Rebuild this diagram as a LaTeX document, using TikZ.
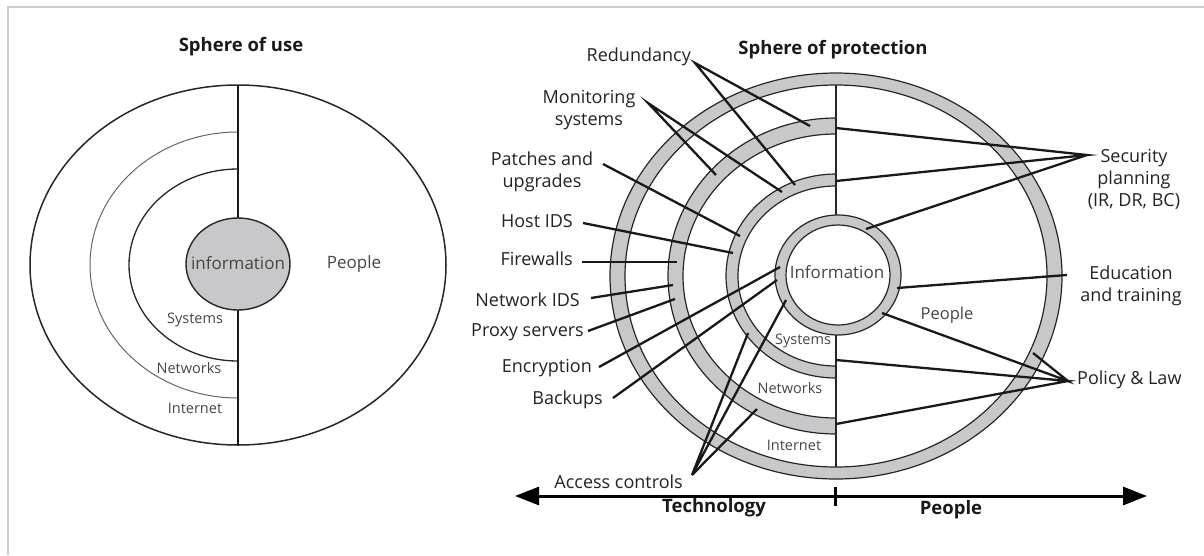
\documentclass[tikz,border=0pt]{standalone}
\usepackage{fontspec}
\setmainfont{Open Sans}
\usetikzlibrary{arrows.meta}
\definecolor{band}{RGB}{200,200,202}
\definecolor{lbl}{RGB}{35,35,35}
\definecolor{inl}{RGB}{70,70,70}
\definecolor{frame}{RGB}{205,205,205}
\begin{document}
\begin{tikzpicture}[x=1pt,y=-1pt,
  lab/.style={text=lbl, font=\fontsize{18}{22}\selectfont, inner sep=0pt},
  inlab/.style={text=inl, font=\fontsize{14.5}{18}\selectfont, inner sep=0pt},
  ttl/.style={text=black!90, font=\bfseries\fontsize{18.5}{20}\selectfont, inner sep=0pt},
  conn/.style={line width=2.3pt, draw=black!90},
  ringline/.style={line width=1.2pt, draw=black!85},
  axis/.style={line width=3pt, {Triangle[length=24pt,width=18pt]}-{Triangle[length=24pt,width=18pt]}}]
\useasboundingbox (0,0) rectangle (1204,555);
% frame
\draw[frame, line width=1.2pt] (8,555) -- (8,7) -- (1204,7);

% ---------------- Sphere of use ----------------
\node[ttl] (tuse) at (241,47) {Sphere of use};
\draw[line width=1.5pt, black!85] (238,265) ellipse[x radius=208pt, y radius=180pt];
\draw[line width=1pt, black!60] (238,132) arc[start angle=90, end angle=270, x radius=148pt, y radius=133pt];
\draw[line width=1.3pt, black!85] (238,169) arc[start angle=90, end angle=270, x radius=109pt, y radius=96pt];
\draw[line width=1.6pt, black!90] (238,85) -- (238,445);
\filldraw[fill=band, draw=black!85, line width=1.4pt] (238,264) ellipse[x radius=52pt, y radius=46pt];
\node[inlab, font=\fontsize{17}{20}\selectfont] (infoL) at (238,263) {information};
\node[inlab, font=\fontsize{17}{20}\selectfont] (peopleL) at (354,264) {People};
\node[inlab] (sysL) at (195,320) {Systems};
\node[inlab] (netL) at (189,368) {Networks};
\node[inlab] (intL) at (195,408) {Internet};

% ---------------- Sphere of protection ----------------
\node[ttl] (tprot) at (833,50) {Sphere of protection};
% outer full ring
\fill[band, even odd rule] (836,276) ellipse[x radius=226pt, y radius=203pt] (836,276) ellipse[x radius=211pt, y radius=191pt];
\draw[ringline] (836,276) ellipse[x radius=226pt, y radius=203pt];
\draw[ringline] (836,276) ellipse[x radius=211pt, y radius=191pt];
% networks half ring
\path[fill=band, ringline] (836,118) arc[start angle=90, end angle=270, x radius=168pt, y radius=158pt]
  -- (836,418) arc[start angle=270, end angle=90, x radius=153pt, y radius=142pt] -- cycle;
% systems half ring
\path[fill=band, ringline] (836,174) arc[start angle=90, end angle=270, x radius=110pt, y radius=102pt]
  -- (836,366) arc[start angle=270, end angle=90, x radius=98pt, y radius=90pt] -- cycle;
% divider
\draw[line width=1.3pt, black!85] (836,85) -- (836,467);
% information ring
\fill[band, even odd rule] (838,275) ellipse[x radius=63pt, y radius=60pt] (838,275) ellipse[x radius=52pt, y radius=50pt];
\fill[white] (838,275) ellipse[x radius=52pt, y radius=50pt];
\draw[ringline] (838,275) ellipse[x radius=63pt, y radius=60pt];
\draw[ringline] (838,275) ellipse[x radius=52pt, y radius=50pt];

% inner labels
\node[inlab, font=\fontsize{17}{20}\selectfont] (infoR) at (837,272) {Information};
\node[inlab, font=\fontsize{16.5}{20}\selectfont] (peopleR) at (947,315) {People};
\node[inlab] (sysR) at (803,341) {Systems};
\node[inlab] (netR) at (790,388) {Networks};
\node[inlab] (intR) at (794,445) {Internet};

% ring attachment points
\coordinate (red1) at (810,126);
\coordinate (red2) at (795,185);
\coordinate (mon1) at (716,175);
\coordinate (mon2) at (782,192);
\coordinate (pat) at (740,236);
\coordinate (host) at (733,253);
\coordinate (fw) at (677,262);
\coordinate (nids) at (673,285);
\coordinate (proxy) at (675,299);
\coordinate (enc) at (780,267);
\coordinate (bak) at (777,280);
\coordinate (acc1) at (748,333);
\coordinate (acc2) at (786,300);
\coordinate (acc3) at (757,409);
\coordinate (sec1) at (836,128);
\coordinate (sec2) at (836,181);
\coordinate (sec3) at (866,229);
\coordinate (edu) at (897,288);
\coordinate (pol1) at (882,313);
\coordinate (pol2) at (1033,353);
\coordinate (pol3) at (836,360);
\coordinate (pol4) at (836,424);

% left labels
\node[lab, anchor=east] (lred) at (691,57) {Redundancy};
\coordinate (ored) at (695,63);
\node[lab, align=center] (lmon) at (589,110) {Monitoring\\systems};
\coordinate (omon) at (648,103);
\node[lab, align=center] (lpat) at (542,172) {Patches and\\upgrades};
\coordinate (opat) at (603,164);
\node[lab, anchor=east] (lhost) at (573,221) {Host IDS};
\coordinate (ohost) at (583,223);
\node[lab, anchor=east] (lfw) at (573,259) {Firewalls};
\coordinate (ofw) at (582,262);
\node[lab, anchor=east] (lnids) at (580,300) {Network IDS};
\coordinate (onids) at (591,298);
\node[lab, anchor=east] (lproxy) at (584,332) {Proxy servers};
\coordinate (oproxy) at (588,331);
\node[lab, anchor=east] (lenc) at (592,368) {Encryption};
\coordinate (oenc) at (599,367);
\node[lab, anchor=east] (lbak) at (603,400) {Backups};
\coordinate (obak) at (613,398);
\node[lab, anchor=east] (lacc) at (683,482) {Access controls};
\coordinate (oacc) at (692,475);

% right labels
\node[lab, align=center] (lsec) at (1134,179) {Security\\planning\\(IR, DR, BC)};
\coordinate (osec) at (1087,155);
\node[lab, align=center] (ledu) at (1131,286) {Education\\and training};
\coordinate (oedu) at (1067,275);
\node[lab, anchor=west] (lpol) at (1077,380) {Policy \& Law};
\coordinate (opol) at (1068,381);

% connectors
\draw[conn] (red1) -- (ored) -- (red2);
\draw[conn] (mon1) -- (omon) -- (mon2);
\draw[conn] (opat) -- (pat);
\draw[conn] (ohost) -- (host);
\draw[conn] (ofw) -- (fw);
\draw[conn] (onids) -- (nids);
\draw[conn] (oproxy) -- (proxy);
\draw[conn] (oenc) -- (enc);
\draw[conn] (obak) -- (bak);
\draw[conn] (acc1) -- (oacc) -- (acc2);
\draw[conn] (oacc) -- (acc3);
\draw[conn] (sec1) -- (osec) -- (sec2);
\draw[conn] (osec) -- (sec3);
\draw[conn] (oedu) -- (edu);
\draw[conn] (pol1) -- (opol) -- (pol2);
\draw[conn] (pol3) -- (opol) -- (pol4);

% axis
\coordinate (axL) at (515,496);
\coordinate (axR) at (1147,496);
\draw[axis] (axL) -- (axR);
\coordinate (tickT) at (835,487);
\coordinate (tickB) at (835,506);
\draw[line width=3pt] (tickT) -- (tickB);
\node[ttl] (ttech) at (714,508) {Technology};
\node[ttl] (tpeo) at (951,510) {People};
\end{tikzpicture}
\end{document}
